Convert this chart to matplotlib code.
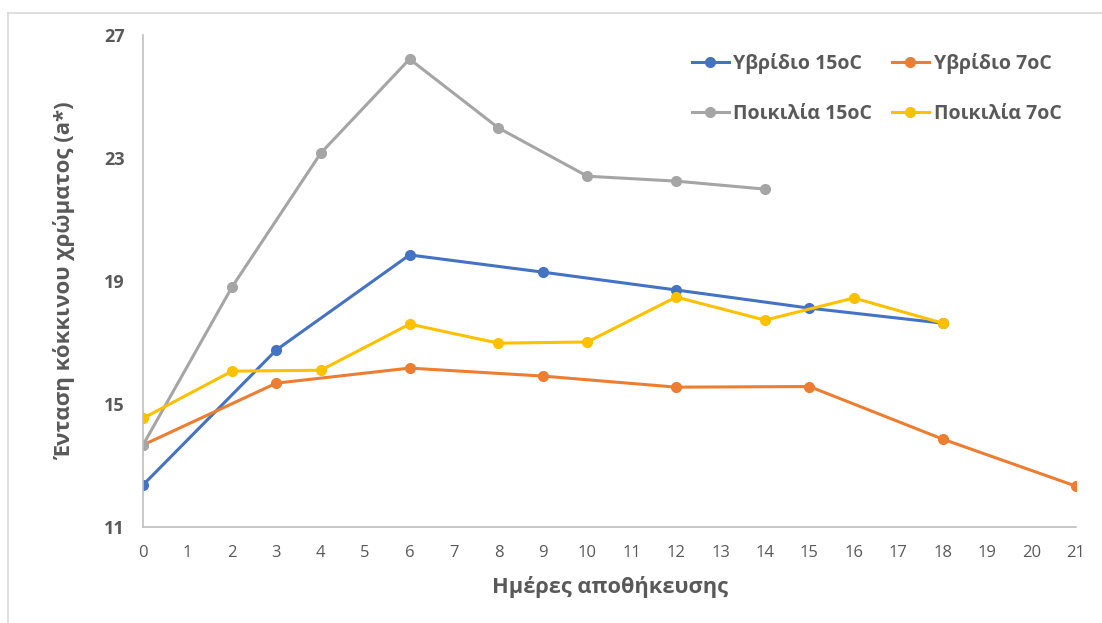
import matplotlib
matplotlib.use("Agg")
import matplotlib.pyplot as plt
from matplotlib.lines import Line2D

plt.rcParams['font.family'] = ['Open Sans', 'DejaVu Sans']

# storage days and a* values
days_hyb_15 = [0, 3, 6, 9, 12, 15, 18]
hyb_15 = [12.37, 16.76, 19.85, 19.29, 18.71, 18.12, 17.63]

days_hyb_7 = [0, 3, 6, 9, 12, 15, 18, 21]
hyb_7 = [13.67, 15.68, 16.17, 15.91, 15.55, 15.57, 13.86, 12.33]

days_var_15 = [0, 2, 4, 6, 8, 10, 12, 14]
var_15 = [13.67, 18.8, 23.16, 26.22, 23.98, 22.41, 22.25, 21.99]

days_var_7 = [0, 2, 4, 6, 8, 10, 12, 14, 16, 18]
var_7 = [14.54, 16.07, 16.1, 17.6, 16.98, 17.02, 18.48, 17.73, 18.45, 17.63]

x_ticks = list(range(0, 22))
y_ticks = [11, 15, 19, 23, 27]

txt = '#595959'
spine = '#bfbfbf'

fig = plt.figure(figsize=(11.02, 6.23), dpi=100)
ax = fig.add_axes([0.1298, 0.154, 0.8466, 0.7897])

lw = 2.2
ms = 7
l1, = ax.plot(days_hyb_15, hyb_15, color='#4472C4', lw=lw, marker='o', ms=ms, label='Υβρίδιο 15oC')
l2, = ax.plot(days_hyb_7, hyb_7, color='#ED7D31', lw=lw, marker='o', ms=ms, label='Υβρίδιο 7oC')
l3, = ax.plot(days_var_15, var_15, color='#A5A5A5', lw=lw, marker='o', ms=ms, label='Ποικιλία 15oC')
l4, = ax.plot(days_var_7, var_7, color='#FFC000', lw=lw, marker='o', ms=ms, label='Ποικιλία 7oC')

ax.set_xlim(0, 21)
ax.set_ylim(11, 27)
ax.set_xticks(x_ticks)
ax.set_yticks(y_ticks)
ax.tick_params(axis='both', length=0, colors=txt, labelsize=12)
ax.tick_params(axis='x', pad=13)
ax.tick_params(axis='y', pad=13, labelsize=13)
for lab in ax.get_yticklabels():
    lab.set_fontweight('bold')

for s in ['top', 'right']:
    ax.spines[s].set_visible(False)
for s in ['left', 'bottom']:
    ax.spines[s].set_color(spine)
    ax.spines[s].set_linewidth(1.2)

ax.set_xlabel('Ημέρες αποθήκευσης', fontsize=15.7, fontweight='bold', color=txt, labelpad=11)
ax.set_ylabel('Ένταση κόκκινου χρώματος (a*)', fontsize=16, fontweight='bold', color=txt, labelpad=20)

leg = ax.legend(handles=[l1, l3, l2, l4], ncol=2, loc='upper right',
                bbox_to_anchor=(1.003, 1.0), frameon=False, fontsize=14,
                labelspacing=1.55, columnspacing=1.0, handlelength=1.9,
                handletextpad=0.25)
for t in leg.get_texts():
    t.set_color(txt)
    t.set_fontweight('bold')

# chart area border (left and top edges only visible)
fig.add_artist(Line2D([0.0073, 0.0073], [0.0, 0.979], color='#d9d9d9', lw=1.2))
fig.add_artist(Line2D([0.0073, 1.0], [0.979, 0.979], color='#d9d9d9', lw=1.2))

fig.savefig('out.png', dpi=100)
